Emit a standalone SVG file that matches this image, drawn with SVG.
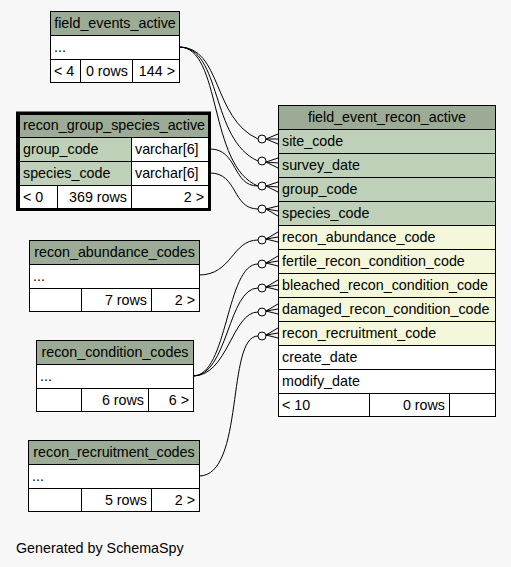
<svg xmlns="http://www.w3.org/2000/svg" width="511" height="567" viewBox="0 0 511 567">
<style>
text{font-family:"Liberation Sans",Arial,sans-serif;font-size:14.3px;fill:#000}
.c{stroke:#000;stroke-width:1}
.h{fill:#9bab96}
.k{fill:#bed1b8}
.f{fill:#f4f7da}
.w{fill:#fff}
.e{fill:none;stroke:#000;stroke-width:1}
.m{text-anchor:middle}
.r{text-anchor:end}
</style>
<rect width="511" height="567" fill="#f7f7f7"/>
<g id="connectors">
<path class="e" d="M179,47 C222,47 212,118 258,139"/>
<path class="e" d="M179,47 C222,47 210,140 258,161"/>
<path class="e" d="M179,47 C222,47 208,166 258,186"/>
<path class="e" d="M210,149 C238,149 232,186 258,186"/>
<path class="e" d="M210,173 C238,173 232,209 258,209"/>
<path class="e" d="M199,275 C232,275 232,240 258,240"/>
<path class="e" d="M193,376 C228,376 226,264 258,264"/>
<path class="e" d="M193,376 C228,376 228,288 258,288"/>
<path class="e" d="M193,376 C228,376 232,312 258,312"/>
<path class="e" d="M199,476 C245,476 226,336 258,336"/>
<g class="e">
<circle cx="262" cy="139" r="4"/><path d="M278,134 L266,139 L278,144 M266,139 L278,139"/>
<circle cx="262" cy="161" r="4"/><path d="M278,158 L266,162 L278,168 M266,162 L278,163"/>
<circle cx="262" cy="186" r="4"/><path d="M278,182 L266,186 L278,192 M266,186 L278,187"/>
<circle cx="262" cy="209" r="4"/><path d="M278,206 L266,209 L278,216 M266,209 L278,211"/>
<circle cx="262" cy="240" r="4"/><path d="M278,232 L266,239 L278,242 M266,239 L278,237"/>
<circle cx="262" cy="264" r="4"/><path d="M278,256 L266,263 L278,266 M266,263 L278,261"/>
<circle cx="262" cy="288" r="4"/><path d="M278,280 L266,287 L278,290 M266,287 L278,285"/>
<circle cx="262" cy="312" r="4"/><path d="M278,304 L266,311 L278,314 M266,311 L278,309"/>
<circle cx="262" cy="336" r="4"/><path d="M278,328 L266,335 L278,338 M266,335 L278,333"/>
</g>
</g>
<g id="field_events_active">
<rect class="h c" x="50.5" y="11.5" width="129" height="24"/>
<rect class="w c" x="50.5" y="35.5" width="129" height="24"/>
<rect class="w c" x="50.5" y="59.5" width="30" height="23"/>
<rect class="w c" x="80.5" y="59.5" width="52" height="23"/>
<rect class="w c" x="132.5" y="59.5" width="47" height="23"/>
<text class="m" x="115" y="28">field_events_active</text>
<text x="54" y="52">...</text>
<text x="54" y="76">&lt; 4</text>
<text class="r" x="128" y="76">0 rows</text>
<text class="r" x="175" y="76">144 &gt;</text>
</g>
<g id="recon_group_species_active">
<rect class="h c" x="19.5" y="114.5" width="189" height="23"/>
<rect class="k c" x="19.5" y="137.5" width="112" height="24"/>
<rect class="w c" x="131.5" y="137.5" width="77" height="24"/>
<rect class="k c" x="19.5" y="161.5" width="112" height="24"/>
<rect class="w c" x="131.5" y="161.5" width="77" height="24"/>
<rect class="w c" x="19.5" y="185.5" width="38" height="24"/>
<rect class="w c" x="57.5" y="185.5" width="74" height="24"/>
<rect class="w c" x="131.5" y="185.5" width="77" height="24"/>
<rect x="17.5" y="113" width="192" height="96.5" fill="none" stroke="#000" stroke-width="3"/>
<text class="m" x="114" y="130">recon_group_species_active</text>
<text x="23" y="154">group_code</text>
<text x="135" y="154">varchar[6]</text>
<text x="23" y="178">species_code</text>
<text x="135" y="178">varchar[6]</text>
<text x="23" y="202">&lt; 0</text>
<text class="r" x="127" y="202">369 rows</text>
<text class="r" x="204" y="202">2 &gt;</text>
</g>
<g id="recon_abundance_codes">
<rect class="h c" x="29.5" y="240.5" width="170" height="24"/>
<rect class="w c" x="29.5" y="264.5" width="170" height="24"/>
<rect class="w c" x="29.5" y="288.5" width="52" height="23"/>
<rect class="w c" x="81.5" y="288.5" width="70" height="23"/>
<rect class="w c" x="151.5" y="288.5" width="48" height="23"/>
<text class="m" x="114.5" y="257">recon_abundance_codes</text>
<text x="33" y="281">...</text>
<text class="r" x="147" y="305">7 rows</text>
<text class="r" x="195" y="305">2 &gt;</text>
</g>
<g id="recon_condition_codes">
<rect class="h c" x="36.5" y="340.5" width="157" height="24"/>
<rect class="w c" x="36.5" y="364.5" width="157" height="24"/>
<rect class="w c" x="36.5" y="388.5" width="45" height="23"/>
<rect class="w c" x="81.5" y="388.5" width="67" height="23"/>
<rect class="w c" x="148.5" y="388.5" width="45" height="23"/>
<text class="m" x="115" y="357">recon_condition_codes</text>
<text x="40" y="381">...</text>
<text class="r" x="144" y="405">6 rows</text>
<text class="r" x="189" y="405">6 &gt;</text>
</g>
<g id="recon_recruitment_codes">
<rect class="h c" x="28.5" y="440.5" width="171" height="24"/>
<rect class="w c" x="28.5" y="464.5" width="171" height="24"/>
<rect class="w c" x="28.5" y="488.5" width="53" height="23"/>
<rect class="w c" x="81.5" y="488.5" width="70" height="23"/>
<rect class="w c" x="151.5" y="488.5" width="48" height="23"/>
<text class="m" x="114" y="457">recon_recruitment_codes</text>
<text x="32" y="481">...</text>
<text class="r" x="147" y="505">5 rows</text>
<text class="r" x="195" y="505">2 &gt;</text>
</g>
<g id="field_event_recon_active">
<rect class="h c" x="278.5" y="105.5" width="217" height="24"/>
<rect class="k c" x="278.5" y="129.5" width="217" height="24"/>
<rect class="k c" x="278.5" y="153.5" width="217" height="24"/>
<rect class="k c" x="278.5" y="177.5" width="217" height="24"/>
<rect class="k c" x="278.5" y="201.5" width="217" height="24"/>
<rect class="f c" x="278.5" y="225.5" width="217" height="24"/>
<rect class="f c" x="278.5" y="249.5" width="217" height="24"/>
<rect class="f c" x="278.5" y="273.5" width="217" height="24"/>
<rect class="f c" x="278.5" y="297.5" width="217" height="24"/>
<rect class="f c" x="278.5" y="321.5" width="217" height="24"/>
<rect class="w c" x="278.5" y="345.5" width="217" height="24"/>
<rect class="w c" x="278.5" y="369.5" width="217" height="24"/>
<rect class="w c" x="278.5" y="393.5" width="91" height="23"/>
<rect class="w c" x="369.5" y="393.5" width="80" height="23"/>
<rect class="w c" x="449.5" y="393.5" width="46" height="23"/>
<text class="m" x="387" y="122">field_event_recon_active</text>
<text x="282" y="146">site_code</text>
<text x="282" y="170">survey_date</text>
<text x="282" y="194">group_code</text>
<text x="282" y="218">species_code</text>
<text x="282" y="242">recon_abundance_code</text>
<text x="282" y="266">fertile_recon_condition_code</text>
<text x="282" y="290">bleached_recon_condition_code</text>
<text x="282" y="314">damaged_recon_condition_code</text>
<text x="282" y="338">recon_recruitment_code</text>
<text x="282" y="362">create_date</text>
<text x="282" y="386">modify_date</text>
<text x="282" y="410">&lt; 10</text>
<text class="r" x="445" y="410">0 rows</text>
</g>
<text x="16" y="553">Generated by SchemaSpy</text>
</svg>
